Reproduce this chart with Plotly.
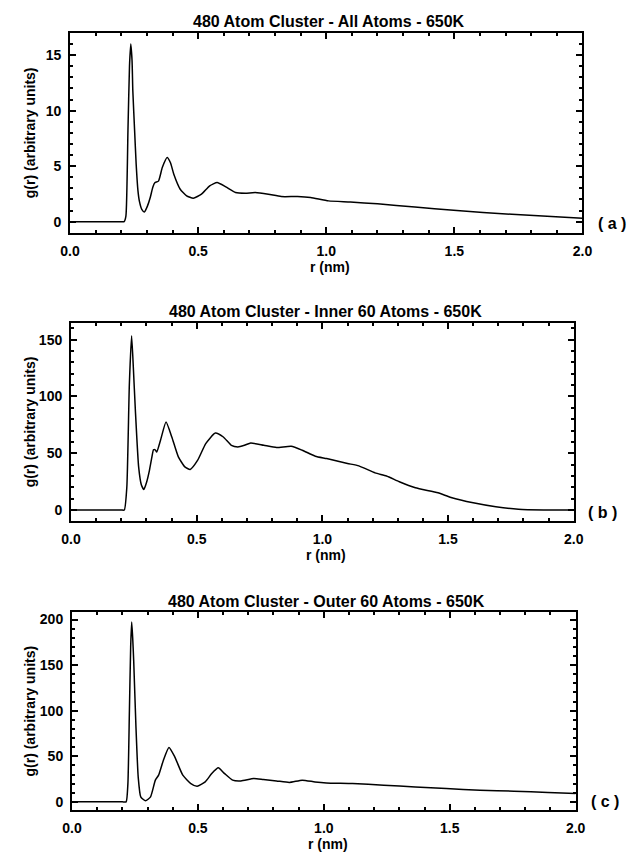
import plotly.graph_objects as go

W, H = 637, 852

titles = ["480 Atom Cluster - All Atoms - 650K",
          "480 Atom Cluster - Inner 60 Atoms - 650K",
          "480 Atom Cluster - Outer 60 Atoms - 650K"]
panel_labels = ["( a )", "( b )", "( c )"]
x_title = "r (nm)"
y_title = "g(r) (arbitrary units)"

x_tickvals = [0, 0.5, 1.0, 1.5, 2.0]
x_ticklabels = ["0.0", "0.5", "1.0", "1.5", "2.0"]
y_tickvals = [[0, 5, 10, 15], [0, 50, 100, 150], [0, 50, 100, 150, 200]]
y_ticklabels = [["0", "5", "10", "15"], ["0", "50", "100", "150"], ["0", "50", "100", "150", "200"]]

r_a = [0, 0.05, 0.1, 0.15, 0.2, 0.211, 0.218, 0.226, 0.232, 0.237, 0.242, 0.245, 0.252, 0.258,
       0.265, 0.271, 0.28, 0.29, 0.302, 0.313, 0.323, 0.331, 0.345, 0.36, 0.379, 0.392, 0.405,
       0.43, 0.455, 0.481, 0.513, 0.545, 0.574, 0.608, 0.646, 0.684, 0.723, 0.774, 0.824,
       0.888, 0.939, 1.009, 1.094, 1.2, 1.346, 1.497, 1.724, 2.0]
g_a = [0, 0, 0, 0, 0, 0, 0.5, 8.2, 14.0, 16.0, 14.5, 11.8, 8.2, 5.2,
       2.8, 1.8, 1.1, 0.87, 1.4, 2.17, 3.1, 3.5, 3.65, 4.87, 5.77, 5.3, 4.27,
       2.92, 2.32, 2.11, 2.47, 3.22, 3.52, 3.13, 2.62, 2.56, 2.62, 2.47, 2.26,
       2.26, 2.17, 1.87, 1.77, 1.6, 1.32, 1.02, 0.66, 0.30]

r_b = [0, 0.05, 0.1, 0.15, 0.2, 0.212, 0.222, 0.232, 0.241, 0.248, 0.256, 0.269, 0.28, 0.29,
       0.3, 0.312, 0.322, 0.328, 0.335, 0.341, 0.356, 0.378, 0.401, 0.427, 0.453, 0.474, 0.504,
       0.536, 0.574, 0.606, 0.638, 0.664, 0.69, 0.715, 0.767, 0.818, 0.876, 0.92, 0.972,
       1.017, 1.10, 1.145, 1.21, 1.255, 1.306, 1.37, 1.46, 1.512, 1.60, 1.69, 1.78, 1.88, 2.0]
g_b = [0, 0, 0, 0, 0, 0, 20, 110, 153.5, 125, 87.7, 38, 22, 18.1,
       24, 35, 47, 53, 53, 51, 61.4, 77.5, 64.3, 46.8, 38, 35.7, 43.9,
       58.5, 67.8, 64.3, 57, 55.6, 57, 59, 57, 55, 56.1, 52.6, 47.4,
       45.3, 41, 38.9, 32.7, 30, 24.9, 19.6, 15.2, 11.1, 6.4, 2.9, 0.6, 0, 0]

r_c = [0, 0.05, 0.1, 0.15, 0.2, 0.215, 0.222, 0.228, 0.233, 0.237, 0.241, 0.245, 0.254, 0.263,
       0.273, 0.292, 0.312, 0.331, 0.344, 0.363, 0.385, 0.408, 0.44, 0.472, 0.497, 0.529,
       0.555, 0.581, 0.606, 0.638, 0.671, 0.722, 0.76, 0.812, 0.863, 0.914, 0.965, 1.01,
       1.114, 1.238, 1.363, 1.486, 1.62, 1.755, 1.89, 2.0]
g_c = [0, 0, 0, 0, 0, 0, 20, 100, 170, 197.4, 180, 155, 82, 27,
       5.5, 1.1, 5.5, 23.8, 29.3, 45.7, 59.6, 49.4, 29.3, 20.1, 17.2, 21.9,
       31, 37.3, 31, 23.8, 23, 25.6, 24.5, 23, 21.2, 23.8, 21.9, 20.8,
       20.1, 18.3, 16.4, 14.6, 12.8, 11.7, 10.2, 9.1]

y_ranges = [[-1, 17], [-10, 165], [-9, 208]]
y_minor = [1, 10, 10]

# plot boxes in pixels: (left, right, top, bottom)
boxes = [(62, 591, 32, 232), (63, 582, 322, 521), (64, 584, 612, 810)]

FONT = "Liberation Sans, Arial, Helvetica, sans-serif"


def bold(items):
    return ["<b>%s</b>" % s for s in items]


fig = go.Figure()
series = [(r_a, g_a), (r_b, g_b), (r_c, g_c)]
for i, (rr, gg) in enumerate(series):
    sfx = "" if i == 0 else str(i + 1)
    fig.add_trace(go.Scatter(x=rr, y=gg, mode="lines",
                             line=dict(color="black", width=1.5, shape="spline", smoothing=0.5),
                             xaxis="x" + sfx, yaxis="y" + sfx, showlegend=False,
                             hoverinfo="skip"))

layout = dict(width=W, height=H, margin=dict(l=0, r=0, t=0, b=0),
              paper_bgcolor="white", plot_bgcolor="white", showlegend=False,
              font=dict(family=FONT, color="black"))
annotations = []
for i, (l, rgt, t, b) in enumerate(boxes):
    sfx = "" if i == 0 else str(i + 1)
    xd = [l / W, rgt / W]
    yd = [1 - b / H, 1 - t / H]
    common = dict(showline=True, linecolor="black", linewidth=2, mirror="ticks",
                  ticks="inside", tickcolor="black", tickwidth=1.5, ticklen=6,
                  showgrid=False, zeroline=False, tickmode="array",
                  tickfont=dict(family=FONT, size=14, color="black"))
    layout["xaxis" + sfx] = dict(domain=xd, range=[0, 2], anchor="y" + sfx,
                                 tickvals=x_tickvals, ticktext=bold(x_ticklabels),
                                 minor=dict(dtick=0.1, tick0=0, ticks="inside", ticklen=3,
                                            tickcolor="black", tickwidth=1.5),
                                 ticklabelstandoff=4, **common)
    layout["yaxis" + sfx] = dict(domain=yd, range=y_ranges[i], anchor="x" + sfx,
                                 tickvals=y_tickvals[i], ticktext=bold(y_ticklabels[i]),
                                 minor=dict(dtick=y_minor[i], tick0=0, ticks="inside", ticklen=3,
                                            tickcolor="black", tickwidth=1.5),
                                 ticklabelstandoff=4, **common)
    cx = (l + rgt) / 2 / W
    annotations.append(dict(text="<b>%s</b>" % titles[i], x=cx + 3 / W, y=1 - (t - 11) / H,
                            xref="paper", yref="paper", showarrow=False,
                            xanchor="center", yanchor="middle",
                            font=dict(family=FONT, size=16, color="black")))
    annotations.append(dict(text="<b>%s</b>" % x_title, x=cx + 4 / W, y=1 - (b + 34) / H,
                            xref="paper", yref="paper", showarrow=False,
                            xanchor="center", yanchor="middle",
                            font=dict(family=FONT, size=14, color="black")))
    annotations.append(dict(text="<b>%s</b>" % y_title, x=21 / W, y=1 - ((t + b) / 2) / H,
                            xref="paper", yref="paper", showarrow=False, textangle=-90,
                            xanchor="center", yanchor="middle",
                            font=dict(family=FONT, size=14, color="black")))
    annotations.append(dict(text="<b>%s</b>" % panel_labels[i], x=(rgt + 30) / W, y=1 - (b - 9) / H,
                            xref="paper", yref="paper", showarrow=False,
                            xanchor="center", yanchor="middle",
                            font=dict(family=FONT, size=16, color="black")))
layout["annotations"] = annotations
fig.update_layout(**layout)
fig.write_html("out.html")
